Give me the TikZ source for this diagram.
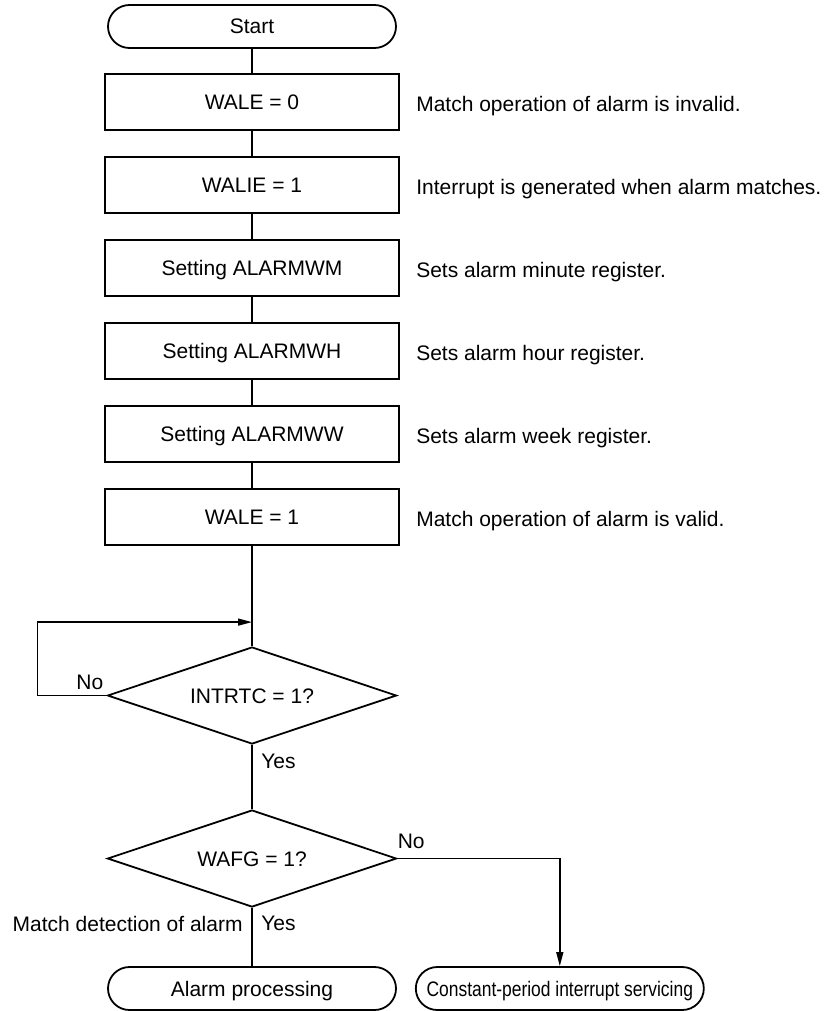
\documentclass[tikz,border=0pt]{standalone}
\usepackage{fontspec}
\setmainfont{Liberation Sans}
\newfontfamily\narrowfont[FakeStretch=0.83]{Liberation Sans}
\usetikzlibrary{shapes.geometric, arrows.meta, positioning, calc}

\begin{document}
\begin{tikzpicture}[
		% global settings
		node distance=12.6pt and 8pt,
		font=\fontsize{10.5}{12}\selectfont,
		% styles
		terminal/.style={rectangle, draw, line width=0.9pt, rounded corners=10.75pt, minimum width=144pt, minimum height=21.5pt, inner sep=0pt, text height=7.5pt, text depth=0pt},
		process/.style={rectangle, draw, line width=0.9pt, minimum width=147pt, minimum height=28pt, inner sep=0pt, text height=7.5pt, text depth=0pt},
		decision/.style={diamond, aspect=3, draw, line width=0.9pt, minimum width=144.5pt, minimum height=48.5pt, inner sep=0pt, text height=7.5pt, text depth=0pt},
		note/.style={anchor=west, inner sep=0pt, text height=7.5pt, text depth=0pt, yshift=-1pt},
		lbl/.style={inner sep=1.5pt},
		arrow/.style={-{Triangle[length=7pt,width=3.5pt]}, line width=0.7pt},
		line/.style={line width=0.7pt}
		]
		\useasboundingbox (0,0) rectangle (416pt,-505.5pt);
		
		% ==========================================
		% Register setup
		% ==========================================
		\node[terminal] (start) at (126pt,-13.25pt) {Start};
		\node[process, below=12.1pt of start] (wale0) {WALE = 0};
		\node[process, below=of wale0] (walie) {WALIE = 1};
		\node[process, below=of walie] (setwm) {Setting ALARMWM};
		\node[process, below=of setwm] (setwh) {Setting ALARMWH};
		\node[process, below=of setwh] (setww) {Setting ALARMWW};
		\node[process, below=of setww] (wale1) {WALE = 1};
		
		% comments on the right
		\node[note, right=of wale0] (n_wale0) {Match operation of alarm is invalid.};
		\node[note, right=of walie] (n_walie) {Interrupt is generated when alarm matches.};
		\node[note, right=of setwm] (n_setwm) {Sets alarm minute register.};
		\node[note, right=of setwh] (n_setwh) {Sets alarm hour register.};
		\node[note, right=of setww] (n_setww) {Sets alarm week register.};
		\node[note, right=of wale1] (n_wale1) {Match operation of alarm is valid.};
		
		\draw[line] (start) -- (wale0);
		\draw[line] (wale0) -- (walie);
		\draw[line] (walie) -- (setwm);
		\draw[line] (setwm) -- (setwh);
		\draw[line] (setwh) -- (setww);
		\draw[line] (setww) -- (wale1);
		
		% ==========================================
		% Wait for interrupt
		% ==========================================
		\node[decision, below=50.1pt of wale1] (intrtc) {INTRTC = 1?};
		\coordinate (join) at ($(intrtc.north)+(0,12pt)$);
		\draw[line] (wale1) -- (intrtc);
		\draw[arrow] (intrtc.west) -- ++(-34.5pt,0) |- (join);
		\node[lbl, anchor=south east, yshift=1pt] at (intrtc.west) {No};
		\node[lbl, anchor=north west, xshift=3pt, yshift=-3pt] at (intrtc.south) {Yes};
		
		% ==========================================
		% Alarm or constant-period
		% ==========================================
		\node[decision, below=32.1pt of intrtc] (wafg) {WAFG = 1?};
		\node[terminal, below=29.1pt of wafg] (alarm) {Alarm processing};
		\node[terminal, right=9pt of alarm] (cpis) {\narrowfont Constant-period interrupt servicing};
		
		\draw[line] (intrtc) -- (wafg);
		\draw[line] (wafg) -- (alarm);
		\draw[arrow] (wafg.east) -| (cpis.north);
		
		\node[lbl, anchor=south west, xshift=-1.5pt, yshift=3pt] at (wafg.east) {No};
		\node[lbl, anchor=north west, xshift=3pt, yshift=-2.5pt] at (wafg.south) {Yes};
		\node[lbl, anchor=north east, xshift=-3pt, yshift=-2.5pt] at (wafg.south) {Match detection of alarm};
		
	\end{tikzpicture}
\end{document}
